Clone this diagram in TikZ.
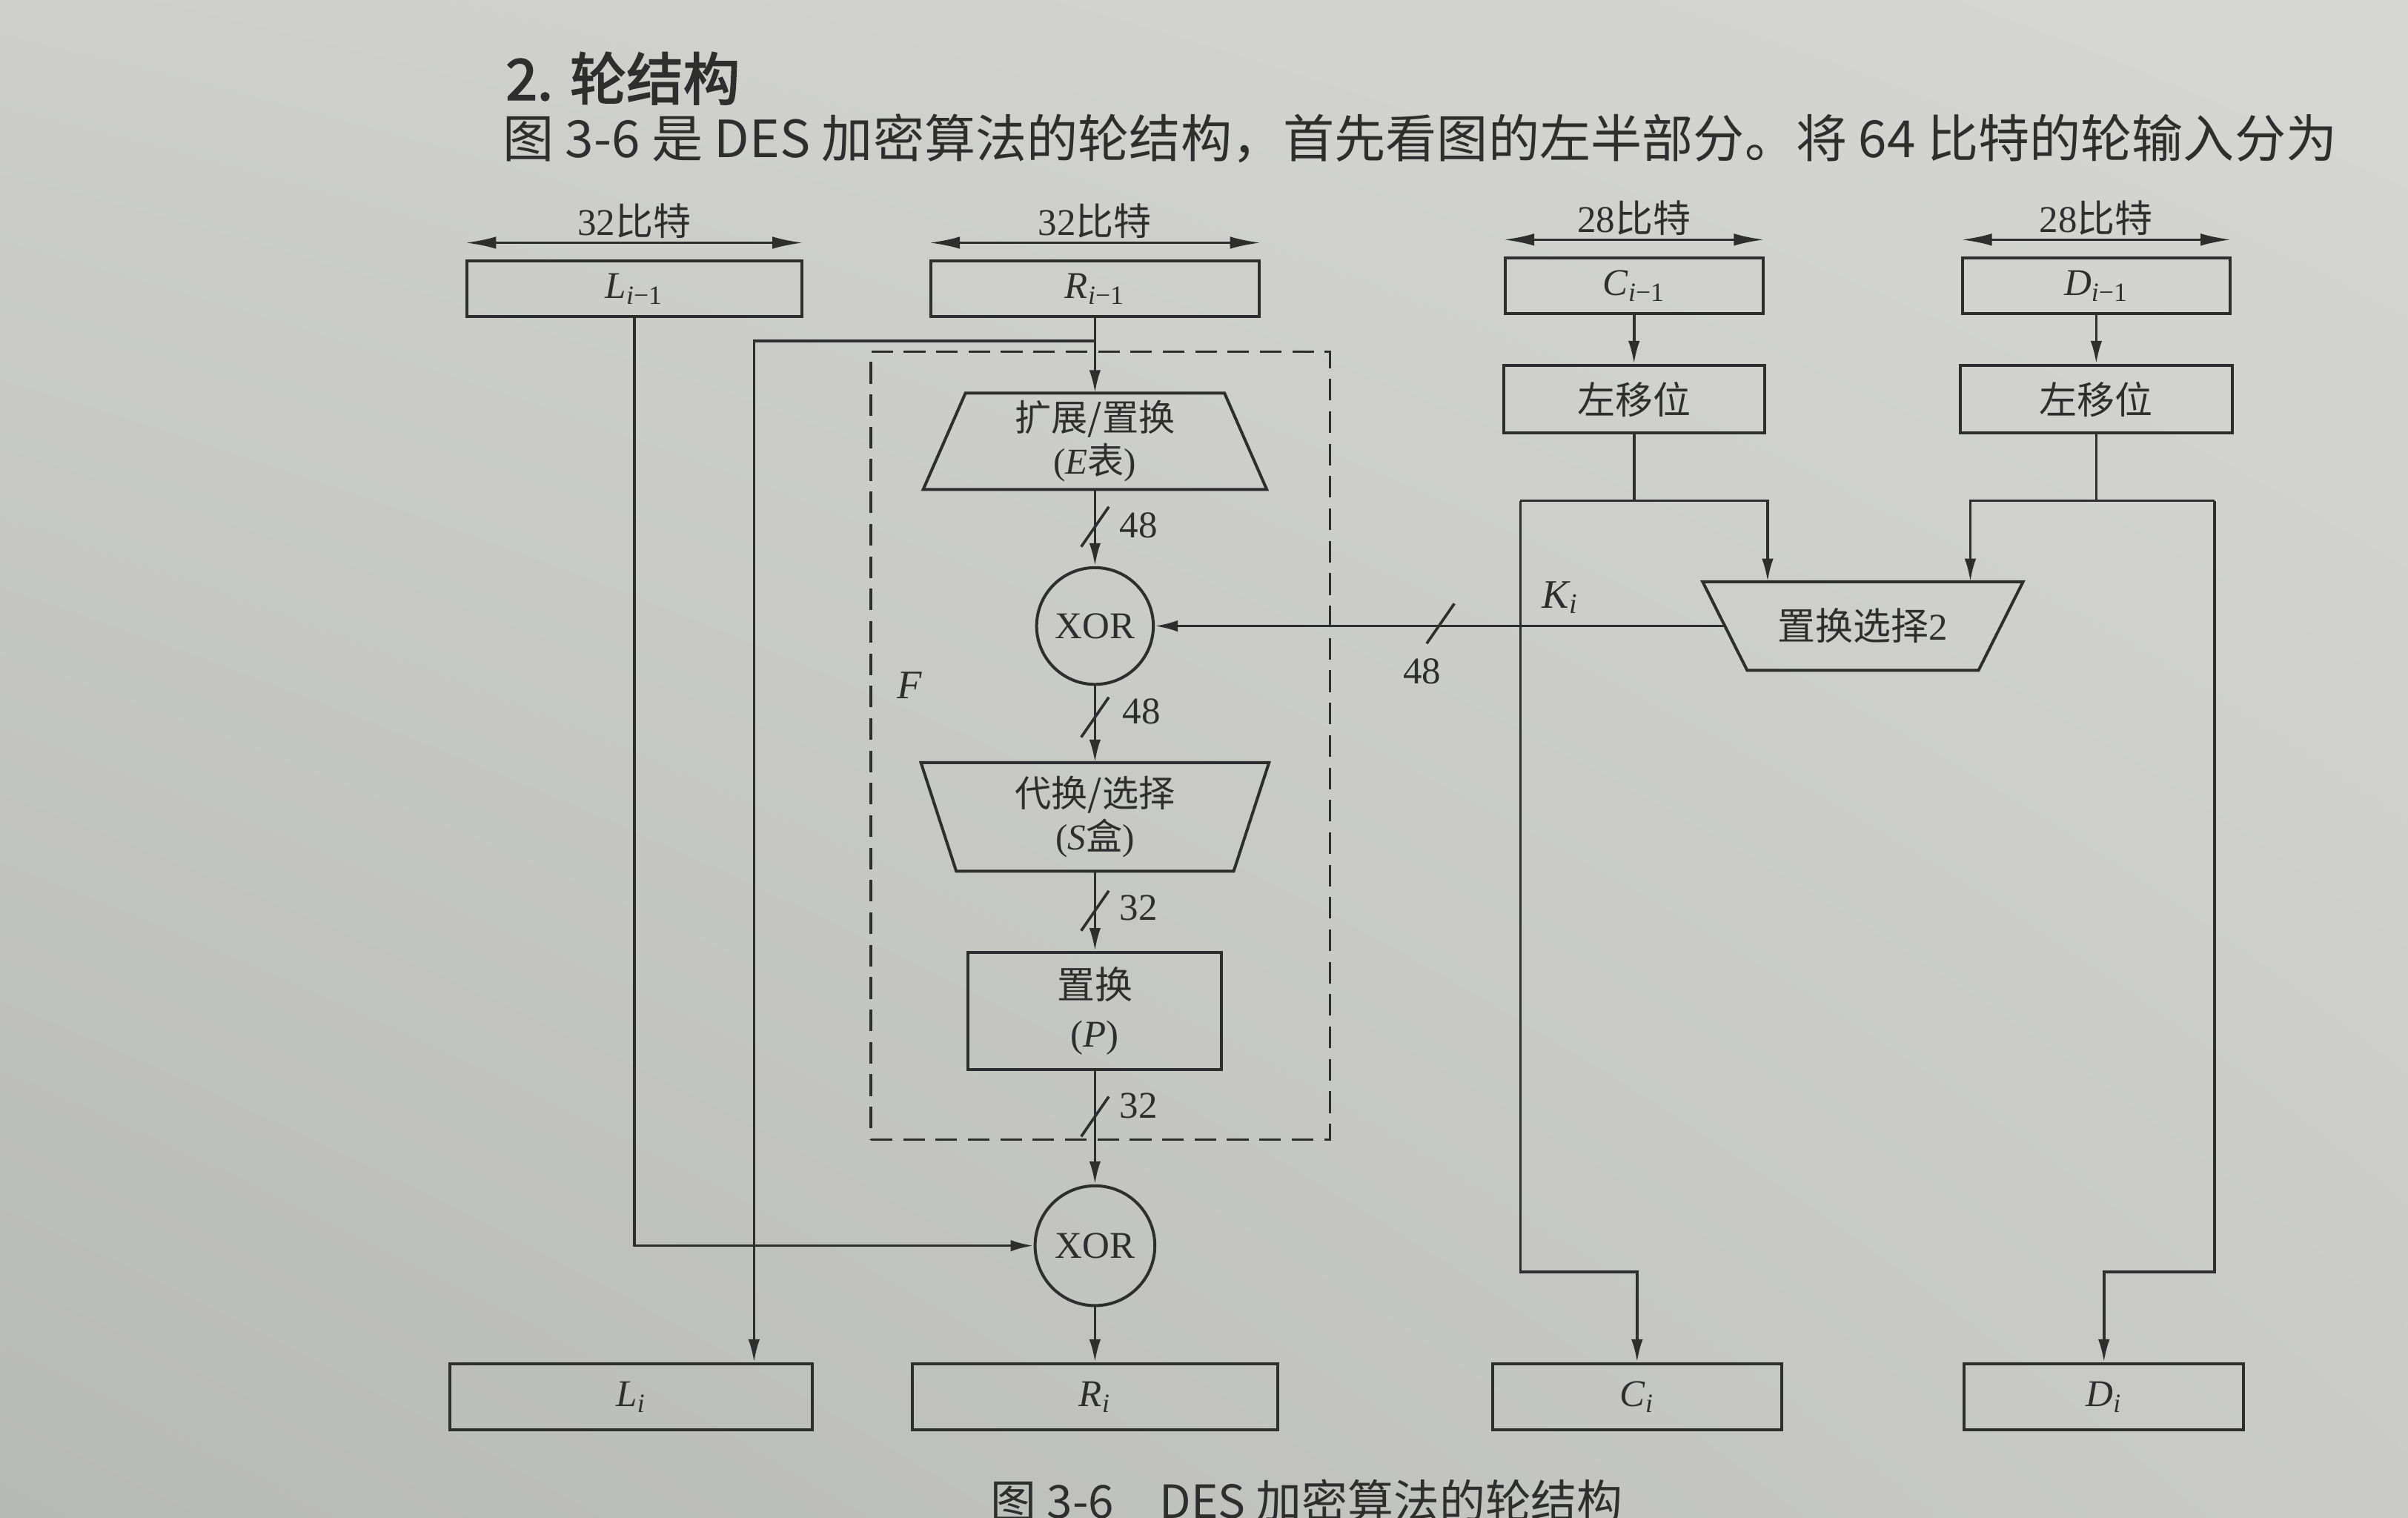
\documentclass[tikz,border=0pt]{standalone}
\usepackage{fontspec}
\setmainfont{Liberation Serif}
\newfontfamily\cjk{Noto Sans CJK SC}
\newfontfamily\cjkbold[FakeBold=2.5]{Noto Sans CJK SC}
\usetikzlibrary{positioning,arrows.meta,shadings}
\definecolor{paperUL}{RGB}{206,207,203}
\definecolor{paperUR}{RGB}{214,215,211}
\definecolor{paperLL}{RGB}{183,185,181}
\definecolor{paperLR}{RGB}{202,203,199}
\definecolor{ink}{RGB}{46,46,46}
\newcommand{\prevblk}[1]{\textit{#1}\textsubscript{\textit{i}−1}}
\newcommand{\curblk}[1]{\textit{#1}\textsubscript{\textit{i}}}
\tikzset{
  blk/.style={rectangle,draw=ink,line width=1.1pt,minimum height=0.72cm,inner sep=1pt,
    align=center,font=\fontsize{14}{17}\selectfont},
  trapbox/.style={rectangle,inner sep=1pt,align=center,font=\fontsize{13.5}{16}\selectfont},
  trapline/.style={draw=ink,line width=1.1pt,line join=miter},
  xor/.style={circle,draw=ink,line width=1.1pt,minimum size=1.52cm,inner sep=0pt,
    font=\fontsize{14}{16}\selectfont},
  fbox/.style={rectangle,draw=ink,line width=1pt,dash pattern=on 8pt off 4pt},
  lbl/.style={inner sep=1pt,font=\fontsize{14}{16}\selectfont},
  flow/.style={draw=ink,line width=1pt,-{Latex[length=3mm,width=1.5mm]}},
  wire/.style={draw=ink,line width=1pt},
  dimline/.style={draw=ink,line width=1pt,{Latex[length=4mm,width=1.6mm]}-{Latex[length=4mm,width=1.6mm]}},
  bus/.style={draw=ink,line width=1pt},
}
\begin{document}
\begin{tikzpicture}[x=0.02cm,y=-0.02cm,every node/.append style={text=ink}]
  \useasboundingbox (0,0) rectangle (1568,988);
  \shade[upper left=paperUL,upper right=paperUR,lower left=paperLL,lower right=paperLR]
    (0,0) rectangle (1568,988);

  % page text
  \node[anchor=west,inner sep=0pt,font=\cjkbold\fontsize{21}{24}\selectfont] (head) at (329,51) {2. 轮结构};
  \node[anchor=west,inner sep=0pt,font=\cjk\fontsize{19}{22}\selectfont] (para) at (327,90)
    {图 3-6 是 DES 加密算法的轮结构，首先看图的左半部分。将 64 比特的轮输入分为};

  % round inputs
  \node[blk,minimum width=4.36cm] (Lp) at (413,188) {\prevblk{L}};
  \node[blk,minimum width=4.28cm] (Rp) at (713,188) {\prevblk{R}};
  \node[blk,minimum width=3.36cm] (Cp) at (1064,186) {\prevblk{C}};
  \node[blk,minimum width=3.48cm] (Dp) at (1365,186) {\prevblk{D}};
  \draw[dimline] ([yshift=0.22cm]Lp.north west) -- ([yshift=0.22cm]Lp.north east)
    node[lbl,midway,above] (wL) {32{\cjk 比特}};
  \draw[dimline] ([yshift=0.22cm]Rp.north west) -- ([yshift=0.22cm]Rp.north east)
    node[lbl,midway,above] (wR) {32{\cjk 比特}};
  \draw[dimline] ([yshift=0.22cm]Cp.north west) -- ([yshift=0.22cm]Cp.north east)
    node[lbl,midway,above] (wC) {28{\cjk 比特}};
  \draw[dimline] ([yshift=0.22cm]Dp.north west) -- ([yshift=0.22cm]Dp.north east)
    node[lbl,midway,above] (wD) {28{\cjk 比特}};

  % F function
  \node[trapbox,minimum width=4.46cm,minimum height=1.24cm,below=0.98cm of Rp] (E)
    {{\cjk 扩展/置换}\\(\textit{E}{\cjk 表})};
  \draw[trapline] ([xshift=0.55cm]E.north west) -- ([xshift=-0.55cm]E.north east)
    -- (E.south east) -- (E.south west) -- cycle;
  \node[xor,below=1.0cm of E] (X1) {XOR};
  \node[trapbox,minimum width=4.52cm,minimum height=1.4cm,below=1.0cm of X1] (S)
    {{\cjk 代换/选择}\\(\textit{S}{\cjk 盒})};
  \draw[trapline] (S.north west) -- (S.north east) -- ([xshift=-0.46cm]S.south east)
    -- ([xshift=0.46cm]S.south west) -- cycle;
  \node[blk,minimum width=3.3cm,minimum height=1.52cm,below=1.04cm of S,
    font=\fontsize{14}{18}\selectfont] (P) {{\cjk 置换}\\(\textit{P})};
  \node[xor,minimum size=1.56cm,below=1.48cm of P] (X2) {XOR};
  \node[blk,minimum width=4.76cm,minimum height=0.86cm,below=0.72cm of X2] (Ri) {\curblk{R}};
  \node[fbox,minimum width=5.98cm,minimum height=10.26cm] (Fb) at (716.5,485.5) {};
  \node[lbl,font=\itshape\fontsize{15}{17}\selectfont] (Fl) at (592,446) {F};

  % key schedule
  \node[blk,minimum width=3.4cm,minimum height=0.88cm,below=0.64cm of Cp] (CL) {\cjk 左移位};
  \node[blk,minimum width=3.54cm,minimum height=0.88cm,below=0.64cm of Dp] (DL) {\cjk 左移位};
  \coordinate (kx) at (1213,0);
  \node[trapbox,minimum width=4.16cm,minimum height=1.14cm,font=\fontsize{14}{16}\selectfont]
    (PC2) at (kx |- X1) {{\cjk 置换选择}2};
  \draw[trapline] (PC2.north west) -- (PC2.north east) -- ([xshift=-0.58cm]PC2.south east)
    -- ([xshift=0.58cm]PC2.south west) -- cycle;

  % round outputs
  \coordinate (lix) at (411,0);
  \coordinate (cix) at (1066,0);
  \coordinate (dix) at (1370,0);
  \node[blk,minimum width=4.72cm,minimum height=0.86cm] (Li) at (lix |- Ri) {\curblk{L}};
  \node[blk,minimum width=3.76cm,minimum height=0.86cm] (Ci) at (cix |- Ri) {\curblk{C}};
  \node[blk,minimum width=3.64cm,minimum height=0.86cm] (Di) at (dix |- Ri) {\curblk{D}};

  % data path
  \draw[flow] (Rp) -- (E);
  \draw[flow] (E) -- (X1);
  \draw[flow] (X1) -- (S);
  \draw[flow] (S) -- (P);
  \draw[flow] (P) -- (X2);
  \draw[flow] (X2) -- (Ri);
  \coordinate (rb) at (491,222);
  \draw[flow] (Rp.south) |- (rb) -- (rb |- Li.north);
  \draw[flow] (Lp.south) |- (X2.west);

  % key path
  \coordinate (cl) at (990,326);
  \coordinate (cr) at (1151,326);
  \coordinate (cb) at (990,828);
  \coordinate (dl) at (1283,326);
  \coordinate (dr) at (1442,326);
  \coordinate (db) at (1442,828);
  \draw[flow] (Cp) -- (CL);
  \draw[flow] (Dp) -- (DL);
  \draw[wire] (CL.south) -- (CL.south |- cl);
  \draw[wire] (DL.south) -- (DL.south |- dl);
  \draw[flow] (cl) -- (cr) -- (cr |- PC2.north);
  \draw[flow] (cl) -- (cb) -| (Ci.north);
  \draw[flow] (dr) -- (dl) -- (dl |- PC2.north);
  \draw[flow] (dr) -- (db) -| (Di.north);
  \draw[flow] ([xshift=0.29cm]PC2.west) -- (PC2.west -| X1.east);
  \node[lbl,font=\itshape\fontsize{15}{17}\selectfont] (Ki) at (1016,389) {K\textsubscript{i}};

  % bus widths
  \draw[bus] (938,406) ++(-9,13) -- ++(18,-26);
  \node[lbl] (wK) at (926,437) {48};
  \draw[bus] (713,343) ++(-9,13) -- ++(18,-26);
  \node[lbl,anchor=west] (w1) at (727,342) {48};
  \draw[bus] (713,467) ++(-9,13) -- ++(18,-26);
  \node[lbl,anchor=west] (w2) at (729,463) {48};
  \draw[bus] (713,593) ++(-9,13) -- ++(18,-26);
  \node[lbl,anchor=west] (w3) at (727,591) {32};
  \draw[bus] (713,727) ++(-9,13) -- ++(18,-26);
  \node[lbl,anchor=west] (w4) at (727,720) {32};

  % caption
  \node[font=\cjk\fontsize{17}{20}\selectfont] (cap) at (851,977) {图 3-6\quad DES 加密算法的轮结构};
\end{tikzpicture}
\end{document}
